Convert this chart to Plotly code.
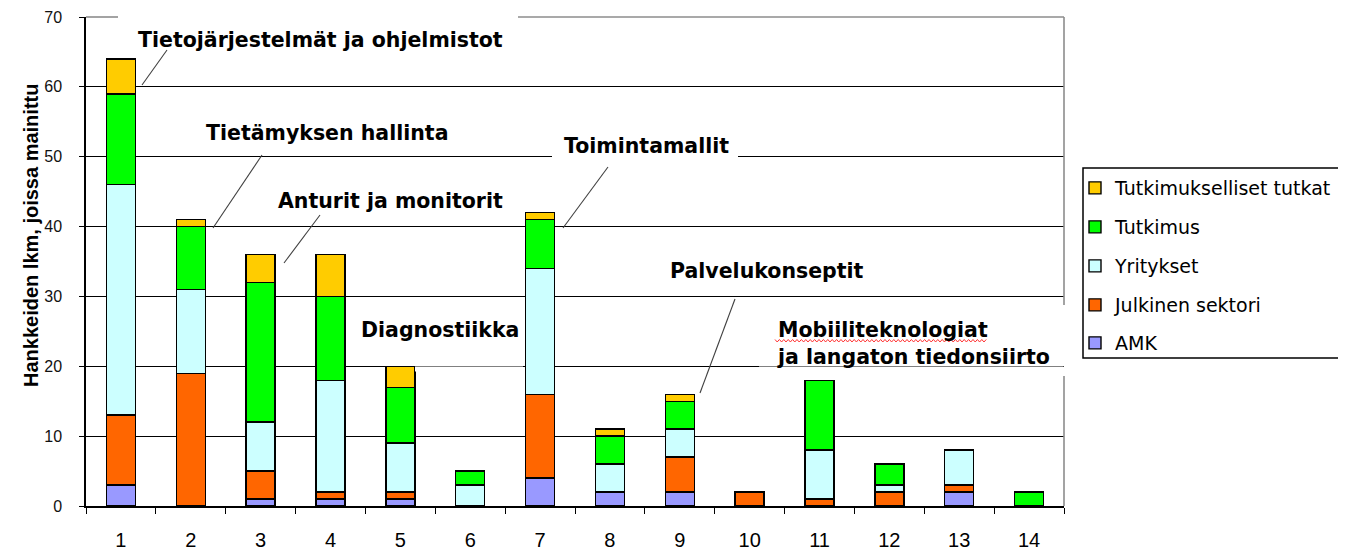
import plotly.graph_objects as go

# ---------------- data ----------------
categories = ["1", "2", "3", "4", "5", "6", "7", "8", "9", "10", "11", "12", "13", "14"]
series_names = ["AMK", "Julkinen sektori", "Yritykset", "Tutkimus", "Tutkimukselliset tutkat"]
amk       = [3, 0, 1, 1, 1, 0, 4, 2, 2, 0, 0, 0, 2, 0]
julkinen  = [10, 19, 4, 1, 1, 0, 12, 0, 5, 2, 1, 2, 1, 0]
yritykset = [33, 12, 7, 16, 7, 3, 18, 4, 4, 0, 7, 1, 5, 0]
tutkimus  = [13, 9, 20, 12, 8, 2, 7, 4, 4, 0, 10, 3, 0, 2]
tutkat    = [5, 1, 4, 6, 3, 0, 1, 1, 1, 0, 0, 0, 0, 0]
y_ticks = [0, 10, 20, 30, 40, 50, 60, 70]
y_title = "Hankkeiden lkm, joissa mainittu"

colors = ["#9999FF", "#FF6600", "#CCFFFF", "#00FF00", "#FFCC00"]
values = [amk, julkinen, yritykset, tutkimus, tutkat]

# ---------------- layout geometry (page pixels) ----------------
PAGE_W, PAGE_H = 1346, 552
OFF = 8                      # default body margin of the html page
W, H = PAGE_W - OFF, PAGE_H - OFF
L, R, T, B = 86, 1064, 17, 506   # plot area in page pixels


def px(xp):
    return (xp - L) / (R - L)


def py(yp):
    return (B - yp) / (B - T)


fig = go.Figure()
legend_ids = ["legend5", "legend4", "legend3", "legend2", "legend"]
for name, vals, col, lg in zip(series_names, values, colors, legend_ids):
    fig.add_trace(go.Bar(
        x=categories, y=[v if v else None for v in vals], name=name,
        marker=dict(color=col, line=dict(color="black", width=1.4)),
        legend=lg,
    ))

# legends: one per entry to reproduce the wide vertical spacing
legend_y_px = {"legend": 188, "legend2": 227, "legend3": 266, "legend4": 305, "legend5": 343}
legend_font = dict(family="DejaVu Sans", size=19, color="black")
for lg, ypx in legend_y_px.items():
    fig.layout[lg] = dict(
        x=px(1075), xanchor="left", y=py(ypx), yanchor="middle",
        bgcolor="rgba(0,0,0,0)", borderwidth=0, font=legend_font,
        itemclick=False, itemdoubleclick=False,
    )

shapes = []
# erase the top gridline and redraw the gray plot border with gaps
shapes.append(dict(type="rect", xref="paper", yref="paper", x0=px(87.5), x1=px(R + 2),
                   y0=py(T + 2.5), y1=py(T - 2.5), fillcolor="white", line=dict(width=0), layer="above"))
gray = dict(color="#8c8c8c", width=1.6)
for (a, b) in [(L, 118), (518, R)]:
    shapes.append(dict(type="line", xref="paper", yref="paper", x0=px(a), x1=px(b),
                       y0=py(T), y1=py(T), line=gray, layer="above"))
for (a, b) in [(T, 305), (376, B)]:
    shapes.append(dict(type="line", xref="paper", yref="paper", x0=px(R), x1=px(R),
                       y0=py(a), y1=py(b), line=gray, layer="above"))
# gridline gaps behind text boxes
for (x0, x1, yp) in [(552, 738, 158), (415, 523, 369), (759, R - 0.5, 369)]:
    shapes.append(dict(type="rect", xref="paper", yref="paper", x0=px(x0), x1=px(x1),
                       y0=py(yp + 2.5), y1=py(yp - 2.5), fillcolor="white",
                       line=dict(width=0), layer="above"))
# leader lines (pixel endpoints)
leaders = [((142, 85), (167, 50)), ((213, 228), (262, 155)), ((284, 263), (320, 215)),
           ((563, 228), (608, 167)), ((700, 393), (735, 299))]
for (a, b) in leaders:
    shapes.append(dict(type="line", xref="paper", yref="paper", x0=px(a[0]), y0=py(a[1]),
                       x1=px(b[0]), y1=py(b[1]), line=dict(color="#404040", width=1.1), layer="above"))
# legend frame
shapes.append(dict(type="rect", xref="paper", yref="paper", x0=px(1083), x1=px(1360),
                   y0=py(358), y1=py(168), line=dict(color="black", width=1.5),
                   fillcolor="rgba(0,0,0,0)", layer="above"))
# red spell-check squiggle under "Mobiiliteknologiat"
pts = []
xx = 775.0
k = 0
while xx <= 987:
    pts.append((xx, 340.5 + (1.5 if k % 2 else -1.0)))
    xx += 2.2
    k += 1
path = "M " + " L ".join(f"{px(a):.5f},{py(b):.5f}" for a, b in pts)
shapes.append(dict(type="path", xref="paper", yref="paper", path=path,
                   line=dict(color="#ff3030", width=1), layer="above"))

ann_font = dict(family="DejaVu Sans", size=20.5, color="black")
labels = [
    ("<b>Tietojärjestelmät ja ohjelmistot</b>", 320, 40, "center"),
    ("<b>Tietämyksen hallinta</b>", 327, 133, "center"),
    ("<b>Anturit ja monitorit</b>", 390, 201, "center"),
    ("<b>Toimintamallit</b>", 646, 146, "center"),
    ("<b>Diagnostiikka</b>", 440, 330, "center"),
    ("<b>Palvelukonseptit</b>", 767, 271, "center"),
    ("<b>Mobiiliteknologiat<br>ja langaton tiedonsiirto</b>", 775, 343, "left"),
]
annotations = []
for text, xp_, yp_, anc in labels:
    annotations.append(dict(text=text, xref="paper", yref="paper", x=px(xp_), y=py(yp_),
                            xanchor=anc, yanchor="middle", align="left", showarrow=False,
                            font=ann_font))
annotations.append(dict(text=f"<b>{y_title}</b>", xref="paper", yref="paper", x=px(31), y=py(236),
                        xanchor="center", yanchor="middle", textangle=-90, showarrow=False,
                        font=dict(family="Liberation Sans", size=20, color="black")))

fig.update_layout(
    width=W, height=H,
    margin=dict(l=L - OFF, r=PAGE_W - R, t=T - OFF, b=PAGE_H - B, pad=0, autoexpand=False),
    barmode="stack", bargap=0.585,
    plot_bgcolor="white", paper_bgcolor="white",
    shapes=shapes, annotations=annotations,
    showlegend=True,
)
fig.update_xaxes(
    type="category", tickson="boundaries", ticks="outside", ticklen=6, tickwidth=1.3,
    tickcolor="black", showline=True, linecolor="black", linewidth=1.5, showgrid=False,
    tickfont=dict(family="Liberation Sans", size=20, color="black"), ticklabelstandoff=15,
)
fig.update_yaxes(
    range=[0, 70], tickvals=y_ticks, ticks="outside", ticklen=5, tickwidth=1.3, tickcolor="black",
    showline=True, linecolor="black", linewidth=1.5, showgrid=True, gridcolor="black",
    gridwidth=1.2, zeroline=False,
    tickfont=dict(family="Liberation Sans", size=16, color="#111"), ticklabelstandoff=14,
)

fig.write_html("out.html")
